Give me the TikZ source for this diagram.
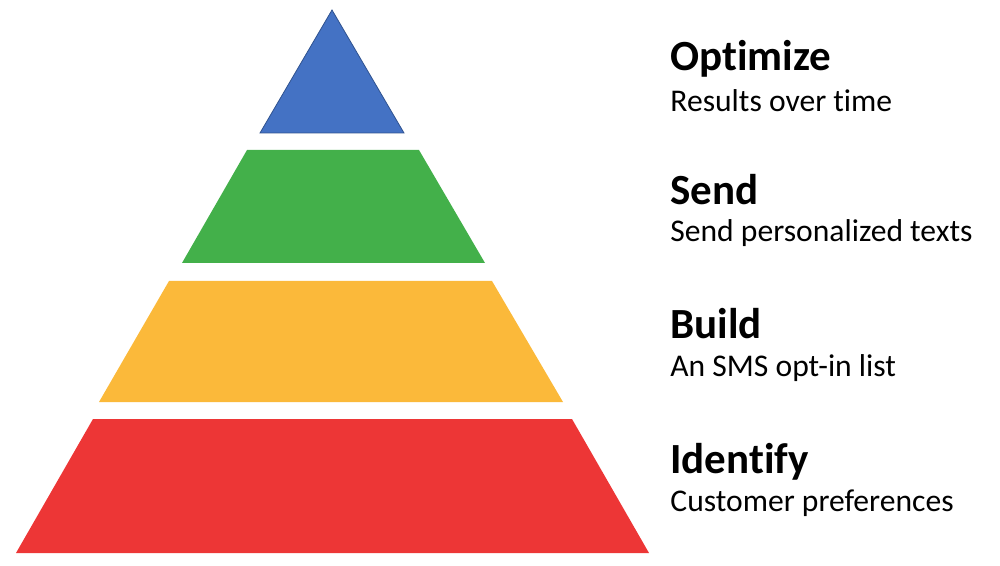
\documentclass[tikz,border=0pt]{standalone}
\usepackage{fontspec}
\setmainfont{Carlito}[Ligatures=NoCommon]
\definecolor{tipblue}{RGB}{68,114,196}
\definecolor{tipedge}{RGB}{47,82,143}
\definecolor{sendgreen}{RGB}{67,176,74}
\definecolor{buildgold}{RGB}{251,185,58}
\definecolor{basered}{RGB}{237,54,54}
\usepackage{tikz}
\usetikzlibrary{positioning}

\begin{document}
\begin{tikzpicture}[x=0.5pt,y=-0.5pt,
    head/.style={anchor=base west,inner sep=0pt,font=\fontsize{21.5}{24}\selectfont\bfseries},
    note/.style={anchor=base west,inner sep=0pt,font=\fontsize{15.8}{18}\selectfont}]
        \useasboundingbox (0,0) rectangle (1000,566);
        % pyramid, top layer first
        \filldraw[fill=tipblue,draw=tipedge,line width=0.4pt] (332,10) -- (404,133) -- (260,133) -- cycle;
        \fill[sendgreen] (247,150) -- (419,150) -- (485,263) -- (182,263) -- cycle;
        \fill[buildgold] (169,281) -- (492,281) -- (563,402) -- (99,402) -- cycle;
        \fill[basered] (93,419) -- (572,419) -- (649,553) -- (16,553) -- cycle;
        % labels on the right
        \node[head] (optimize) at (670,71) {Optimize};
        \node[note] (optimizesub) at (670,112) {Results over time};
        \node[head] (send) at (670,205) {Send};
        \node[note] (sendsub) at (670,242) {Send personalized texts};
        \node[head] (build) at (670,338) {Build};
        \node[note] (buildsub) at (670,376) {An SMS opt-in list};
        \node[head] (identify) at (670,473) {Identify};
        \node[note] (identifysub) at (670,511) {Customer preferences};
      \end{tikzpicture}
\end{document}
